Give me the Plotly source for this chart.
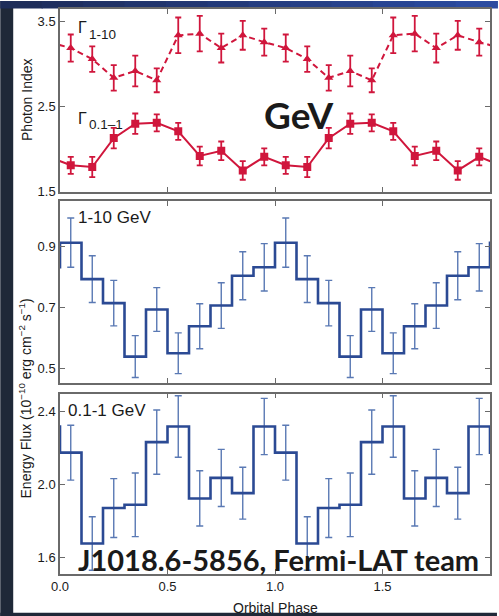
import plotly.graph_objects as go

# ---------------- data ----------------
phase = [0.05, 0.15, 0.25, 0.35, 0.45, 0.55, 0.65, 0.75, 0.85, 0.95,
         1.05, 1.15, 1.25, 1.35, 1.45, 1.55, 1.65, 1.75, 1.85, 1.95]
bin_edges = [0.0, 0.1, 0.2, 0.3, 0.4, 0.5, 0.6, 0.7, 0.8, 0.9,
             1.0, 1.1, 1.2, 1.3, 1.4, 1.5, 1.6, 1.7, 1.8, 1.9]

gamma_01_1 = [1.81, 1.79, 2.13, 2.30, 2.31, 2.21, 1.92, 1.98, 1.75, 1.91,
              1.81, 1.79, 2.13, 2.30, 2.31, 2.21, 1.92, 1.98, 1.75, 1.91]
gamma_01_1_err = [0.10, 0.12, 0.12, 0.12, 0.10, 0.10, 0.11, 0.11, 0.11, 0.10,
                  0.10, 0.12, 0.12, 0.12, 0.10, 0.10, 0.11, 0.11, 0.11, 0.10]
gamma_1_10 = [3.19, 3.06, 2.84, 2.92, 2.81, 3.34, 3.36, 3.19, 3.34, 3.26,
              3.19, 3.06, 2.84, 2.92, 2.81, 3.34, 3.36, 3.19, 3.34, 3.26]
gamma_1_10_err = [0.16, 0.15, 0.15, 0.18, 0.14, 0.21, 0.21, 0.17, 0.17, 0.16,
                  0.16, 0.15, 0.15, 0.18, 0.14, 0.21, 0.21, 0.17, 0.17, 0.16]

flux_1_10 = [0.913, 0.793, 0.714, 0.538, 0.693, 0.549, 0.638, 0.706, 0.804, 0.832,
             0.913, 0.793, 0.714, 0.538, 0.693, 0.549, 0.638, 0.706, 0.804, 0.832]
flux_1_10_err = [0.081, 0.077, 0.075, 0.069, 0.072, 0.067, 0.074, 0.075, 0.079, 0.078,
                 0.081, 0.077, 0.075, 0.069, 0.072, 0.067, 0.074, 0.075, 0.079, 0.078]
flux_01_1 = [2.175, 1.675, 1.870, 1.888, 2.233, 2.319, 1.923, 2.036, 1.952, 2.319,
             2.175, 1.675, 1.870, 1.888, 2.233, 2.319, 1.923, 2.036, 1.952, 2.319]
flux_01_1_err = [0.151, 0.147, 0.162, 0.175, 0.177, 0.169, 0.152, 0.157, 0.143, 0.155,
                 0.151, 0.147, 0.162, 0.175, 0.177, 0.169, 0.152, 0.157, 0.143, 0.155]

x_ticks = [0.0, 0.5, 1.0, 1.5, 2.0]
x_ticklabels = ["0.0", "0.5", "1.0", "1.5", "2.0"]

# ---------------- styling / layout helpers ----------------
W, H = 499, 616
L, R, T, B = 60, 7, 8, 42
PW, PH = W - L - R, H - T - B

def px(x):
    return (x - L) / PW

def py(y):
    return (H - B - y) / PH

RED = "#d0163c"
BLUE = "#2b4a94"
BLUE_ERR = "#5a79b4"
FRAME = "#6a6a6a"
TXT = "#1a1a1a"
FONT = "Liberation Sans"
BIG = "Lato"
PERIOD = 2.0


def wrap_pts(x, y):
    # periodic continuation beyond the plotted phase range (clipped by the axes)
    return [x[-1] - PERIOD] + list(x) + [x[0] + PERIOD], [y[-1]] + list(y) + [y[0]]


def step_pts(edges, y):
    xs = [edges[0] - (edges[1] - edges[0])] + list(edges) + [PERIOD, PERIOD + (edges[1] - edges[0])]
    ys = [y[-1]] + list(y) + [y[0], y[0]]
    return xs, ys


fig = go.Figure()

# ---- top panel: photon indices ----
xw, yw = wrap_pts(phase, gamma_1_10)
fig.add_trace(go.Scatter(x=xw, y=yw, mode="lines", line=dict(color=RED, width=2, dash="6px,4px"),
                         xaxis="x3", yaxis="y3", hoverinfo="skip", showlegend=False))
fig.add_trace(go.Scatter(x=phase, y=gamma_1_10, mode="markers",
                         marker=dict(symbol="triangle-up", size=8, color=RED),
                         error_y=dict(type="data", array=gamma_1_10_err, color=RED, thickness=1.8, width=3),
                         xaxis="x3", yaxis="y3", showlegend=False))
xw, yw = wrap_pts(phase, gamma_01_1)
fig.add_trace(go.Scatter(x=xw, y=yw, mode="lines", line=dict(color=RED, width=2),
                         xaxis="x3", yaxis="y3", hoverinfo="skip", showlegend=False))
fig.add_trace(go.Scatter(x=phase, y=gamma_01_1, mode="markers",
                         marker=dict(symbol="square", size=8, color=RED),
                         error_y=dict(type="data", array=gamma_01_1_err, color=RED, thickness=1.8, width=3),
                         xaxis="x3", yaxis="y3", showlegend=False))

# ---- middle panel: 1-10 GeV flux ----
fig.add_trace(go.Scatter(x=phase, y=flux_1_10, mode="markers", marker=dict(size=1, color=BLUE_ERR, opacity=0),
                         error_y=dict(type="data", array=flux_1_10_err, color=BLUE_ERR, thickness=1.4, width=3.5),
                         xaxis="x2", yaxis="y2", showlegend=False))
xs, ys = step_pts(bin_edges, flux_1_10)
fig.add_trace(go.Scatter(x=xs, y=ys, mode="lines", line=dict(color=BLUE, width=2.6, shape="hv"),
                         xaxis="x2", yaxis="y2", hoverinfo="skip", showlegend=False))

# ---- bottom panel: 0.1-1 GeV flux ----
fig.add_trace(go.Scatter(x=phase, y=flux_01_1, mode="markers", marker=dict(size=1, color=BLUE_ERR, opacity=0),
                         error_y=dict(type="data", array=flux_01_1_err, color=BLUE_ERR, thickness=1.4, width=3.5),
                         xaxis="x", yaxis="y", showlegend=False))
xs, ys = step_pts(bin_edges, flux_01_1)
fig.add_trace(go.Scatter(x=xs, y=ys, mode="lines", line=dict(color=BLUE, width=2.6, shape="hv"),
                         xaxis="x", yaxis="y", hoverinfo="skip", showlegend=False))

ax_common = dict(showline=True, linecolor=FRAME, linewidth=1.5, mirror="allticks",
                 ticks="inside", ticklen=5, tickwidth=1.2, tickcolor=FRAME,
                 showgrid=False, zeroline=False,
                 tickfont=dict(family=FONT, size=13, color=TXT))

xcommon = dict(ax_common, range=[0, 2], tickmode="array", tickvals=x_ticks, ticktext=x_ticklabels)

fig.update_layout(
    width=W, height=H,
    margin=dict(l=L, r=R, t=T, b=B),
    paper_bgcolor="white", plot_bgcolor="white",
    xaxis=dict(xcommon, anchor="y", domain=[0, 1]),
    xaxis2=dict(xcommon, anchor="y2", domain=[0, 1], showticklabels=False),
    xaxis3=dict(xcommon, anchor="y3", domain=[0, 1], showticklabels=False),
    yaxis=dict(ax_common, anchor="x", domain=[0, py(393.3)], range=[1.507, 2.50],
               tickmode="linear", tick0=1.6, dtick=0.4, tickformat=".1f"),
    yaxis2=dict(ax_common, anchor="x2", domain=[py(382.7), py(200.7)], range=[0.451, 1.049],
                tickmode="linear", tick0=0.5, dtick=0.2, tickformat=".1f"),
    yaxis3=dict(ax_common, anchor="x3", domain=[py(191), 1.0], range=[1.4995, 3.65],
                tickmode="linear", tick0=1.5, dtick=1.0, tickformat=".1f"),
)

# ---- slide frame (dark strips) ----
shapes = []
DARK = "#1f2838"
shapes.append(dict(type="rect", xref="paper", yref="paper", x0=px(0), x1=px(13), y0=py(H), y1=py(0),
                   fillcolor=DARK, line=dict(width=0), layer="below"))
shapes.append(dict(type="rect", xref="paper", yref="paper", x0=px(0), x1=px(W), y0=py(H), y1=py(612.7),
                   fillcolor=DARK, line=dict(width=0), layer="below"))
n = 12
c0 = (0x1e, 0x2d, 0x5a)
c1 = (0x2b, 0x4b, 0xa0)
for i in range(n):
    f = i / (n - 1)
    col = "rgb(%d,%d,%d)" % tuple(int(a + (b - a) * f) for a, b in zip(c0, c1))
    shapes.append(dict(type="rect", xref="paper", yref="paper",
                       x0=px(W * i / n), x1=px(W * (i + 1) / n + 1), y0=py(7.5), y1=py(0),
                       fillcolor=col, line=dict(width=0), layer="below"))
fig.update_layout(shapes=shapes)

ann = []
def A(text, x, y, size, family=FONT, xanchor="left", yanchor="middle", angle=0, weight="normal"):
    ann.append(dict(text=text, x=px(x), y=py(y), xref="paper", yref="paper", showarrow=False,
                    xanchor=xanchor, yanchor=yanchor, textangle=angle,
                    font=dict(family=family, size=size, color=TXT, weight=weight)))

# Γ labels: main glyph and subscript as separate texts for size control
A("Γ", 76, 27, 16)
A("1-10", 87, 34, 13.5)
A("Γ", 76, 118, 16)
A("0.1–1", 87, 124, 13.5)
A("GeV", 263, 114, 37, family=BIG, weight="bold")
A("1-10 GeV", 76, 217, 17)
A("0.1-1 GeV", 66, 410, 17)
A("J1018.6-5856, Fermi-LAT team", 76, 559, 29, family=BIG, weight="bold")
A("Photon Index", 27, 99, 14, xanchor="center", angle=-90)
A("Energy Flux (10<sup>−10</sup> erg cm<sup>−2</sup> s<sup>−1</sup>)", 25, 398, 14, xanchor="center", angle=-90)
A("Orbital Phase", 276, 608, 14, xanchor="center")
fig.update_layout(annotations=ann)

fig.write_html("out.html")
